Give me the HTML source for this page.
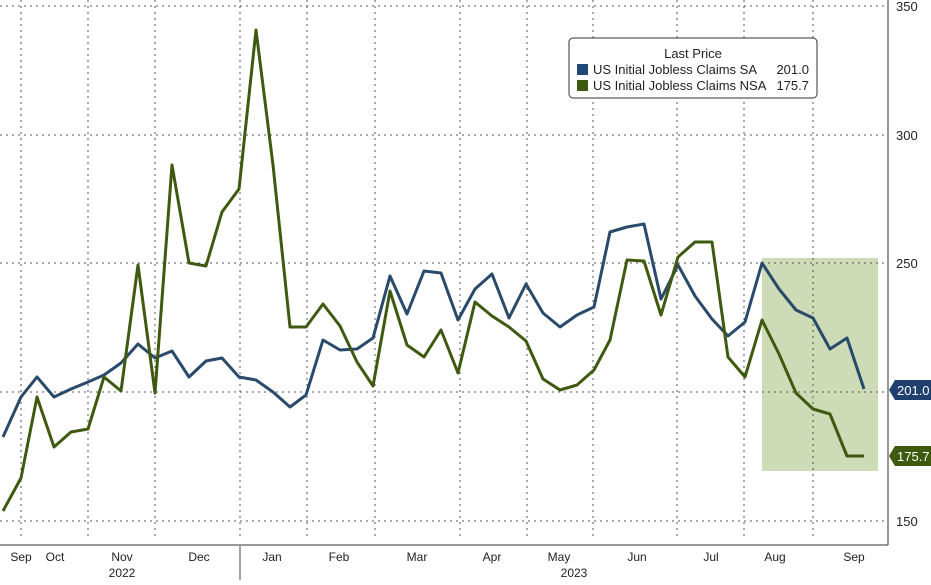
<!DOCTYPE html>
<html><head><style>
body{margin:0;background:#fff;}
svg text{font-family:"Liberation Sans",sans-serif;}
</style></head><body>
<svg width="931" height="580" xmlns="http://www.w3.org/2000/svg">
<rect width="931" height="580" fill="#fff"/>
<rect x="762" y="258" width="116" height="213" fill="#cddcb6"/>
<g stroke="#555" stroke-width="1" stroke-dasharray="2,4" fill="none">
<line x1="0" y1="6" x2="888" y2="6"/>
<line x1="0" y1="135" x2="888" y2="135"/>
<line x1="0" y1="263" x2="888" y2="263"/>
<line x1="0" y1="392" x2="888" y2="392"/>
<line x1="0" y1="521" x2="888" y2="521"/>
<line x1="21" y1="0" x2="21" y2="540"/>
<line x1="88" y1="0" x2="88" y2="540"/>
<line x1="155" y1="0" x2="155" y2="540"/>
<line x1="240" y1="0" x2="240" y2="540"/>
<line x1="307" y1="0" x2="307" y2="540"/>
<line x1="375" y1="0" x2="375" y2="540"/>
<line x1="460" y1="0" x2="460" y2="540"/>
<line x1="527" y1="0" x2="527" y2="540"/>
<line x1="593" y1="0" x2="593" y2="540"/>
<line x1="677" y1="0" x2="677" y2="540"/>
<line x1="744" y1="0" x2="744" y2="540"/>
<line x1="813" y1="0" x2="813" y2="540"/>
</g>
<line x1="888" y1="0" x2="888" y2="545" stroke="#333" stroke-width="1"/>
<line x1="0" y1="545" x2="888" y2="545" stroke="#333" stroke-width="1"/>
<g font-size="13" fill="#222">
<text x="896" y="11">350</text>
<text x="896" y="140">300</text>
<text x="896" y="268">250</text>
<text x="896" y="526">150</text>
</g>
<polyline fill="none" stroke="#2a4a6b" stroke-width="3" stroke-linejoin="round" points="3,437 21,397 37,377 54,397 71,389 88,382 104,375 121,363 138,344 155,358 172,351 189,377 206,361 222,358 239,377 256,380 273,392 290,407 306,395 323,340 340,350 357,349 373,338 390,276 407,314 424,271 441,273 458,320 475,289 492,274 509,318 526,284 543,313 560,327 577,315 594,307 610,232 627,227 644,224 661,299 678,265 695,296 712,319 728,336 745,322 762,263 779,289 796,310 813,318 830,349 847,338 864,389"/>
<polyline fill="none" stroke="#3f5a10" stroke-width="3" stroke-linejoin="round" points="3,511 21,478 37,397 54,447 71,432 88,429 104,377 121,391 138,265 155,393 172,165 189,263 206,266 222,212 239,189 256,30 273,165 290,327 306,327 323,304 340,326 357,362 373,386 390,291 407,345 424,357 441,330 458,373 475,302 492,316 509,327 526,341 543,379 560,390 577,385 594,370 610,340 627,260 644,261 661,315 678,257 695,242 712,242 728,357 745,377 762,320 779,354 796,393 813,409 830,414 847,456 864,456"/>
<path d="M889,390 L895,380 L931,380 L931,400 L895,400 Z" fill="#1f3f6e"/>
<text x="897" y="395" font-size="13" fill="#fff">201.0</text>
<path d="M889,456 L895,446 L931,446 L931,466 L895,466 Z" fill="#3d5a0f"/>
<text x="897" y="461" font-size="13" fill="#fff">175.7</text>
<rect x="569" y="38" width="248" height="60" rx="4" fill="#fff" stroke="#333"/>
<text x="693" y="58" font-size="13" fill="#222" text-anchor="middle">Last Price</text>
<rect x="577" y="64" width="11" height="11" fill="#1f4a78"/>
<rect x="577" y="80" width="11" height="11" fill="#3d5a0f"/>
<text x="593" y="74" font-size="13" fill="#222">US Initial Jobless Claims SA</text>
<text x="809" y="74" font-size="13" fill="#222" text-anchor="end">201.0</text>
<text x="593" y="90" font-size="13" fill="#222">US Initial Jobless Claims NSA</text>
<text x="809" y="90" font-size="13" fill="#222" text-anchor="end">175.7</text>
<g font-size="12" fill="#222" text-anchor="middle">
<text x="21" y="561">Sep</text>
<text x="55" y="561">Oct</text>
<text x="122" y="561">Nov</text>
<text x="122" y="577">2022</text>
<text x="199" y="561">Dec</text>
<text x="272" y="561">Jan</text>
<text x="339" y="561">Feb</text>
<text x="417" y="561">Mar</text>
<text x="492" y="561">Apr</text>
<text x="559" y="561">May</text>
<text x="574" y="577">2023</text>
<text x="637" y="561">Jun</text>
<text x="711" y="561">Jul</text>
<text x="775" y="561">Aug</text>
<text x="854" y="561">Sep</text>
</g>
<line x1="240" y1="546" x2="240" y2="580" stroke="#444"/>
</svg>
</body></html>
